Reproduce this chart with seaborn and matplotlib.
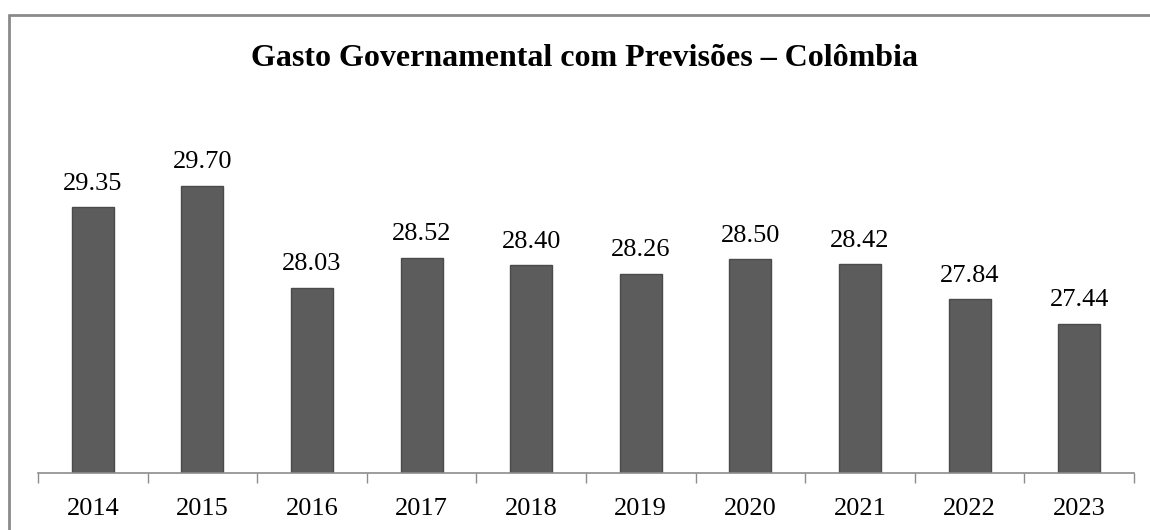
import numpy as np
import pandas as pd
import matplotlib
matplotlib.use("Agg")
import matplotlib.pyplot as plt
from matplotlib.lines import Line2D
import seaborn as sns

# Data ===================================================================================================
years = ["2014", "2015", "2016", "2017", "2018", "2019", "2020", "2021", "2022", "2023"]
gasto = [29.35, 29.70, 28.03, 28.52, 28.40, 28.26, 28.50, 28.42, 27.84, 27.44]
title = "Gasto Governamental com Previsões – Colômbia"

df = pd.DataFrame({"Ano": years, "Gasto": gasto})

# Style
sns.set_style("white")
plt.rcParams["font.family"] = ["Liberation Serif", "DejaVu Serif"]

fig = plt.figure(figsize=(11.5, 5.3), dpi=100)
W, H = 1150, 530
ax = fig.add_axes([38 / W, (H - 473) / H, (1134 - 38) / W, 366.6 / H])

sns.barplot(data=df, x="Ano", y="Gasto", ax=ax, color="#5c5c5c",
            edgecolor="#4a4a4a", linewidth=1, width=0.385, saturation=1)

ax.set_ylim(25, 31)
ax.set_xlim(-0.5, len(years) - 0.5)

# value labels
for cont in ax.containers:
    ax.bar_label(cont, labels=[f"{v:.2f}" for v in gasto], padding=9,
                 fontsize=19, color="black")

# axes cosmetics
sns.despine(ax=ax, left=True, top=True, right=True)
ax.spines["bottom"].set_color("#8c8c8c")
ax.spines["bottom"].set_linewidth(1.2)
ax.set_yticks([])
ax.set_xlabel("")
ax.set_ylabel("")
ax.tick_params(axis="x", which="major", length=0, labelsize=19, pad=18, labelcolor="black")
ax.set_xticks(np.arange(-0.5, len(years), 1), minor=True)
ax.tick_params(axis="x", which="minor", bottom=True, length=7, width=1,
               color="#8c8c8c", direction="out")

# title
fig.text(585 / W, (H - 58) / H, title, ha="center", va="center",
         fontsize=23, fontweight="bold", color="black")

# outer frame
fig.add_artist(Line2D([9 / W, 9 / W], [0, (H - 15) / H], color="#8a8a8a", lw=2))
fig.add_artist(Line2D([9 / W, 1], [(H - 15) / H, (H - 15) / H], color="#8a8a8a", lw=2))

plt.savefig("out.png", dpi=100)
